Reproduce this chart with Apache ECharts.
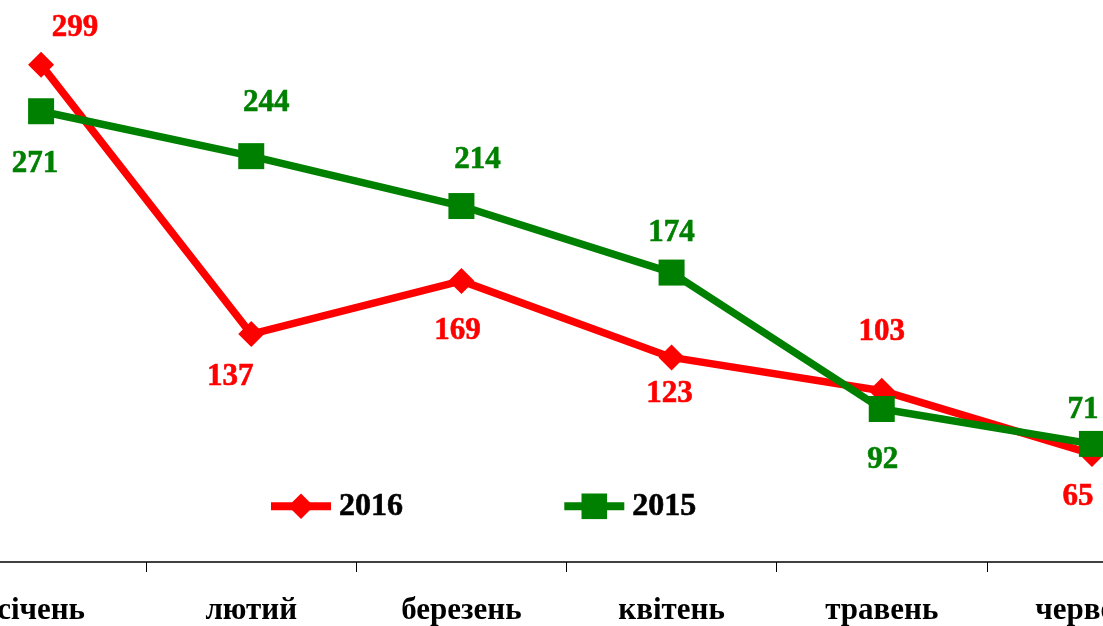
<!DOCTYPE html>
<html>
<head>
<meta charset="utf-8">
<script src="https://cdn.jsdelivr.net/npm/echarts@6/dist/echarts.min.js"></script>
<style>
  html, body { margin: 0; padding: 0; background: #fff; overflow: hidden; }
  /* the reference shows the plot cut at both sides, so the canvas is wider than the window */
  #chart { width: 1261px; height: 626px; margin-left: -64px; }
</style>
</head>
<body>
<div id="chart"></div>
<script>
const months = ['січень', 'лютий', 'березень', 'квітень', 'травень', 'червень'];
const values2016 = [299, 137, 169, 123, 103, 65];
const values2015 = [271, 244, 214, 174, 92, 71];

// label offsets from each point (label centre)
const offsets2016 = [[34, -37], [-21, 43], [-4, 50], [-2, 37], [0, -59], [-14, 43]];
const offsets2015 = [[-6, 53], [15, -53], [16, -46], [0, -40], [1, 51], [-9, -34]];

const font = '"Liberation Serif", "Times New Roman", serif';

function withLabels(values, offsets, color) {
  return values.map((v, i) => ({
    value: v,
    label: {
      show: true,
      position: 'inside',
      offset: offsets[i],
      color: color,
      fontFamily: font,
      fontWeight: 'bold',
      fontSize: 31,
      textBorderColor: color,
      textBorderWidth: 0.6
    }
  }));
}

const chart = echarts.init(document.getElementById('chart'));
chart.setOption({
  animation: false,
  grid: { left: 0, right: 0, top: 63, bottom: 63 },
  legend: {
    left: 331,
    top: 490,
    padding: 0,
    itemWidth: 60,
    itemHeight: 32,
    itemGap: 157,
    textStyle: {
      fontFamily: font, fontWeight: 'bold', fontSize: 32, color: '#000',
      textBorderColor: '#000', textBorderWidth: 0.6, padding: [0, 0, 0, 3]
    },
    data: [
      { name: '2016', lineStyle: { width: 8 } },
      { name: '2015', lineStyle: { width: 8 } }
    ]
  },
  xAxis: {
    type: 'category',
    data: months,
    boundaryGap: true,
    axisLine: { lineStyle: { color: '#000', width: 1.5 } },
    axisTick: { show: true, length: 10, lineStyle: { color: '#000' } },
    axisLabel: { fontFamily: font, fontWeight: 'bold', fontSize: 31, color: '#000', margin: 33 }
  },
  yAxis: { type: 'value', min: 0, max: 300, show: false, splitLine: { show: false } },
  series: [
    {
      name: '2016',
      type: 'line',
      data: withLabels(values2016, offsets2016, '#ff0000'),
      symbol: 'diamond',
      symbolSize: 26,
      color: '#ff0000',
      lineStyle: { width: 7.5, color: '#ff0000' },
      itemStyle: { color: '#ff0000' }
    },
    {
      name: '2015',
      type: 'line',
      data: withLabels(values2015, offsets2015, '#008000'),
      symbol: 'rect',
      symbolSize: 26,
      color: '#008000',
      lineStyle: { width: 7.5, color: '#008000' },
      itemStyle: { color: '#008000' }
    }
  ]
});
</script>
</body>
</html>
